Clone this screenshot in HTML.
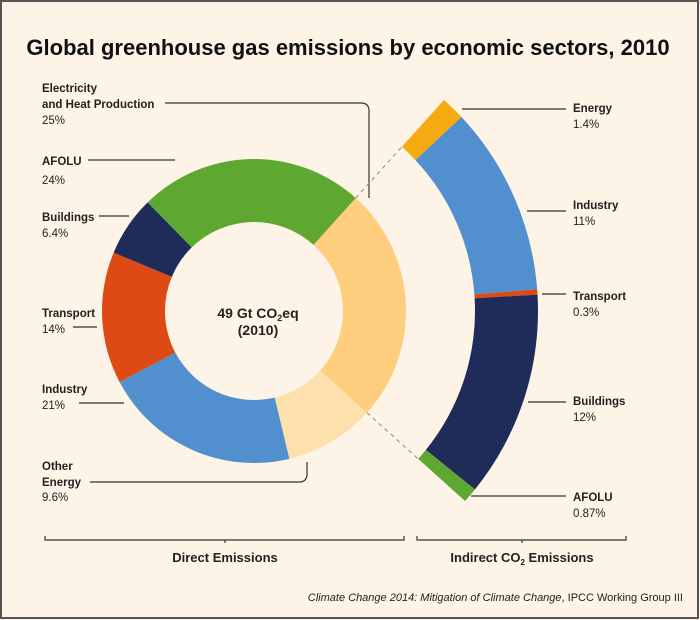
<!DOCTYPE html>
<html><head><meta charset="utf-8"><style>
html,body{margin:0;padding:0;background:#fdf3e6;}
svg{display:block;font-family:"Liberation Sans",sans-serif;}
.n{font-size:11.5px;font-weight:bold;fill:#222;}
.p{font-size:11.5px;fill:#222;}
</style></head><body>
<svg id="s" width="700" height="620" viewBox="0 0 700 620" xmlns="http://www.w3.org/2000/svg">
<rect x="1" y="1" width="697" height="617" fill="#fdf3e6" stroke="#555" stroke-width="2"/>
<text x="348" y="55" text-anchor="middle" font-size="22" font-weight="bold" fill="#111">Global greenhouse gas emissions by economic sectors, 2010</text>
<g id="arcs"></g>
<g stroke="#333" stroke-width="1.2" fill="none">
<path d="M165 103 H361 Q369 103 369 111 V198"/>
<line x1="88" y1="160" x2="175" y2="160"/>
<line x1="99" y1="216" x2="129" y2="216"/>
<line x1="73" y1="327" x2="97" y2="327"/>
<line x1="79" y1="403" x2="124" y2="403"/>
<path d="M90 482 H299 Q307 482 307 474 V462"/>
<line x1="462" y1="109" x2="566" y2="109"/>
<line x1="527" y1="211" x2="566" y2="211"/>
<line x1="542" y1="294" x2="566" y2="294"/>
<line x1="528" y1="402" x2="566" y2="402"/>
<line x1="471" y1="496" x2="566" y2="496"/>
<path d="M45 536 V540 H404 V536 M225 540 V543"/>
<path d="M417 536 V540 H626 V536 M522 540 V543"/>
</g>
<g id="dash" stroke="#888" stroke-width="1" stroke-dasharray="4,4"></g>
<g class="n">
<text x="42" y="92">Electricity</text><text x="42" y="108">and Heat Production</text>
<text x="42" y="165">AFOLU</text>
<text x="42" y="221">Buildings</text>
<text x="42" y="317">Transport</text>
<text x="42" y="393">Industry</text>
<text x="42" y="470">Other</text><text x="42" y="486">Energy</text>
<text x="573" y="112">Energy</text>
<text x="573" y="209">Industry</text>
<text x="573" y="300">Transport</text>
<text x="573" y="405">Buildings</text>
<text x="573" y="501">AFOLU</text>
<text x="225" y="562" text-anchor="middle" font-size="13">Direct Emissions</text>
<text x="522" y="562" text-anchor="middle" font-size="13">Indirect CO<tspan font-size="8" dy="3">2</tspan><tspan dy="-3"> Emissions</tspan></text>
<text x="258" y="318" text-anchor="middle" font-size="14">49 Gt CO<tspan font-size="9" dy="3">2</tspan><tspan dy="-3">eq</tspan></text>
<text x="258" y="335" text-anchor="middle" font-size="14">(2010)</text>
</g>
<g class="p">
<text x="42" y="124">25%</text>
<text x="42" y="184">24%</text>
<text x="42" y="237">6.4%</text>
<text x="42" y="333">14%</text>
<text x="42" y="409">21%</text>
<text x="42" y="501">9.6%</text>
<text x="573" y="128">1.4%</text>
<text x="573" y="225">11%</text>
<text x="573" y="316">0.3%</text>
<text x="573" y="421">12%</text>
<text x="573" y="517">0.87%</text>
</g>
<text x="683" y="601" text-anchor="end" font-size="11" fill="#222" font-style="italic">Climate Change 2014: Mitigation of Climate Change<tspan font-style="normal">, IPCC Working Group III</tspan></text>
</svg>
<script>
var cx=254,cy=311;
function pt(r,a){a=a*Math.PI/180;return [cx+r*Math.sin(a),cy-r*Math.cos(a)];}
function arc(r1,r2,a1,a2,c){var p1=pt(r2,a1),p2=pt(r2,a2),p3=pt(r1,a2),p4=pt(r1,a1);var l=(a2-a1)>180?1:0;
return '<path fill="'+c+'" d="M'+p1+' A'+r2+' '+r2+' 0 '+l+' 1 '+p2+' L'+p3+' A'+r1+' '+r1+' 0 '+l+' 0 '+p4+'Z"/>';}
var h='',a=42;
[[25,'#fecd7d'],[9.6,'#fde0ae'],[21,'#518fcf'],[14,'#de4a14'],[6.4,'#1f2c5a'],[24,'#5ea832']].forEach(function(s){var d=s[0]*3.6;h+=arc(89,152,a,a+d,s[1]);a+=d;});
a=42;var f=90/25.57;
[[1.4,'#f6aa12'],[11,'#518fcf'],[0.3,'#de4a14'],[12,'#1f2c5a'],[0.87,'#5ea832']].forEach(function(s){var d=s[0]*f;h+=arc(221,284,a,a+d,s[1]);a+=d;});
document.getElementById('arcs').innerHTML=h;
var dd='';[42,132].forEach(function(t){var p=pt(152,t),q=pt(221,t);dd+='<line x1="'+p[0]+'" y1="'+p[1]+'" x2="'+q[0]+'" y2="'+q[1]+'"/>';});
document.getElementById('dash').innerHTML=dd;
</script>
</body></html>
